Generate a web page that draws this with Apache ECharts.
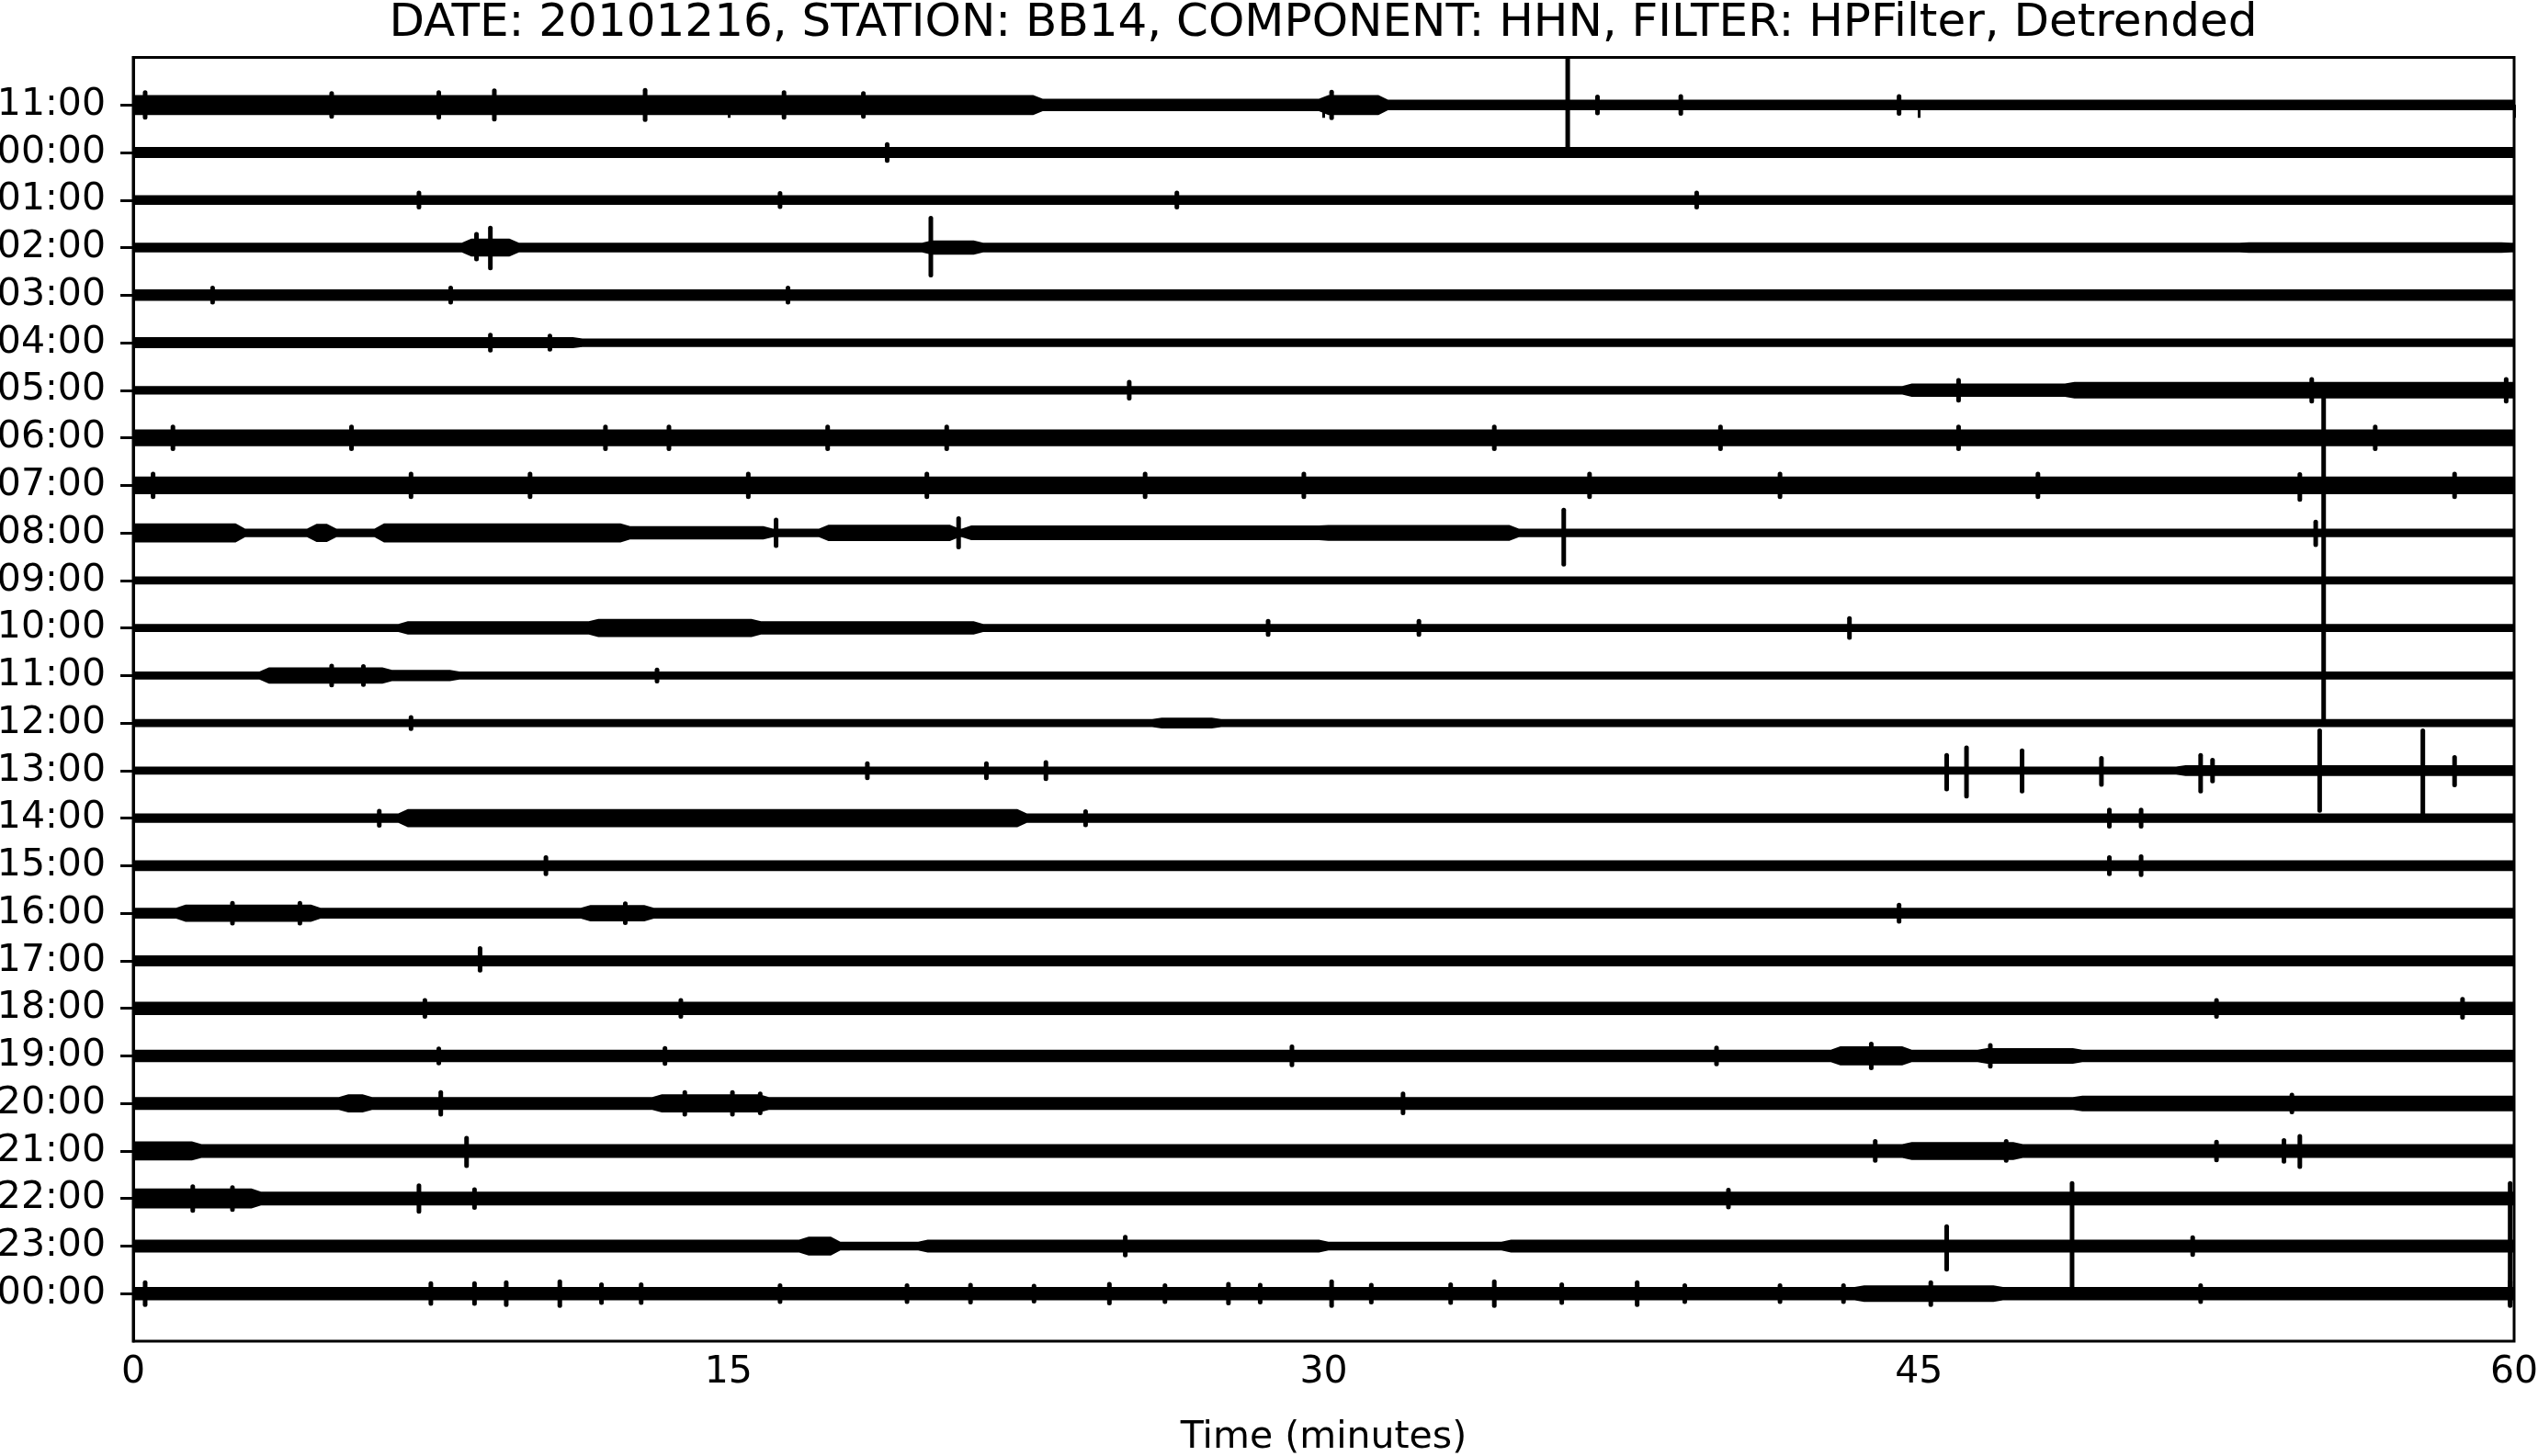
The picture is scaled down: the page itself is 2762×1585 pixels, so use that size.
<!DOCTYPE html>
<html><head><meta charset="utf-8">
<script src="https://cdn.jsdelivr.net/npm/echarts@6/dist/echarts.min.js"></script>
<style>html,body{margin:0;padding:0;background:#fff}#chart{width:2762px;height:1585px}</style>
</head><body><div id="chart"></div>
<script>
const titleText = 'DATE: 20101216, STATION: BB14, COMPONENT: HHN, FILTER: HPFilter, Detrended';
const xAxisName = 'Time (minutes)';
const hourLabels = ['11:00','00:00','01:00','02:00','03:00','04:00','05:00','06:00','07:00','08:00','09:00','10:00','11:00','12:00','13:00','14:00','15:00','16:00','17:00','18:00','19:00','20:00','21:00','22:00','23:00','00:00'];
const xTicks = [0, 15, 30, 45, 60];
// half-thickness of each trace band (in row units)
const baseAmp = [0.11,0.115,0.10,0.10,0.12,0.09,0.09,0.175,0.185,0.09,0.085,0.085,0.085,0.085,0.085,0.10,0.115,0.115,0.115,0.14,0.13,0.135,0.145,0.145,0.135,0.14];
// [row, start min, end min, half-amplitude]
const noiseBursts = [
  [0,0,22.8,0.21],[0,22.8,30.0,0.13],[0,30.0,31.5,0.21],
  [3,8.4,9.6,0.19],[3,20.0,21.3,0.15],[3,53.2,59.8,0.11],
  [5,0,11.2,0.115],
  [6,44.7,48.8,0.14],[6,48.8,60,0.175],
  [9,0,2.7,0.2],[9,4.5,5.0,0.19],[9,6.2,12.4,0.2],[9,12.4,16.0,0.14],[9,17.4,20.7,0.17],[9,21,30,0.155],[9,30,34.8,0.165],
  [11,6.8,11.6,0.14],[11,11.6,15.7,0.19],[11,15.7,21.3,0.14],
  [12,3.3,6.4,0.17],[12,6.4,8.1,0.12],
  [13,25.8,27.3,0.115],
  [14,51.6,60,0.115],
  [15,6.8,22.4,0.19],
  [17,1.2,4.6,0.18],[17,11.4,13,0.17],
  [20,42.9,44.7,0.2],[20,46.6,49,0.165],
  [21,5.3,5.9,0.19],[21,13.2,15.9,0.19],[21,49,60,0.165],
  [22,0,1.6,0.2],[22,44.7,47.5,0.19],
  [23,0,3.1,0.21],
  [24,16.9,17.7,0.2],[24,17.7,19.9,0.09],[24,30,34.6,0.09],
  [25,43.5,47,0.175]
];
// [row, minute, extent above, extent below] (row units)
const spikes = [
  [0,0.3,0.26,0.26],[0,5.0,0.24,0.24],[0,7.7,0.26,0.26],[0,9.1,0.3,0.3],[0,12.9,0.31,0.31],[0,16.4,0.26,0.26],[0,18.4,0.24,0.24],[0,30.2,0.27,0.27],[0,36.9,0.17,0.17],[0,39.0,0.18,0.18],[0,44.5,0.18,0.18],
  [0,36.15,1.2,0.94],
  [1,19.0,0.17,0.17],
  [2,7.2,0.15,0.15],[2,16.3,0.14,0.14],[2,26.3,0.15,0.15],[2,39.4,0.15,0.15],
  [3,8.65,0.28,0.24],[3,9.0,0.41,0.43],[3,20.1,0.62,0.58],
  [4,2.0,0.15,0.15],[4,8.0,0.15,0.15],[4,16.5,0.15,0.15],
  [5,9.0,0.16,0.16],[5,10.5,0.14,0.14],
  [6,25.1,0.17,0.17],[6,46.0,0.21,0.21],[6,54.9,0.23,0.23],[6,59.8,0.23,0.23],
  [7,1.0,0.23,0.23],[7,5.5,0.23,0.23],[7,11.9,0.23,0.23],[7,13.5,0.23,0.23],[7,17.5,0.23,0.23],[7,20.5,0.23,0.23],[7,34.3,0.23,0.23],[7,40.0,0.23,0.23],[7,46.0,0.23,0.23],[7,56.5,0.23,0.23],
  [8,0.5,0.24,0.24],[8,7.0,0.24,0.24],[8,10.0,0.24,0.24],[8,15.5,0.24,0.24],[8,20.0,0.24,0.24],[8,25.5,0.24,0.24],[8,29.5,0.24,0.24],[8,36.7,0.24,0.24],[8,41.5,0.24,0.24],[8,48.0,0.24,0.24],[8,54.6,0.23,0.3],[8,58.5,0.24,0.24],
  [9,16.2,0.27,0.27],[9,20.8,0.3,0.3],[9,36.05,0.48,0.66],[9,55.0,0.23,0.25],[9,55.2,2.9,3.96],
  [11,28.6,0.14,0.14],[11,32.4,0.14,0.14],[11,43.25,0.2,0.2],
  [12,5.0,0.2,0.2],[12,5.8,0.19,0.19],[12,13.2,0.12,0.12],
  [13,7.0,0.12,0.12],
  [14,18.5,0.15,0.15],[14,21.5,0.15,0.15],[14,23.0,0.17,0.17],[14,45.7,0.32,0.39],[14,46.2,0.48,0.54],[14,47.6,0.42,0.43],[14,49.6,0.26,0.29],[14,52.1,0.32,0.43],[14,52.4,0.22,0.22],[14,55.1,0.84,0.84],[14,57.7,0.84,0.9],[14,58.5,0.28,0.3],
  [15,6.2,0.15,0.15],[15,24.0,0.14,0.14],[15,49.8,0.17,0.17],[15,50.6,0.17,0.17],
  [16,10.4,0.17,0.17],[16,49.8,0.17,0.17],[16,50.6,0.19,0.19],
  [17,2.5,0.21,0.21],[17,4.2,0.21,0.21],[17,12.4,0.2,0.2],[17,44.5,0.17,0.17],
  [18,8.74,0.26,0.2],
  [19,7.35,0.17,0.17],[19,13.8,0.17,0.17],[19,52.5,0.17,0.17],[19,58.7,0.19,0.19],
  [20,7.7,0.15,0.15],[20,13.4,0.16,0.16],[20,29.2,0.19,0.19],[20,39.9,0.17,0.17],[20,43.8,0.25,0.25],[20,46.8,0.22,0.22],
  [21,7.75,0.23,0.23],[21,13.9,0.23,0.23],[21,15.1,0.23,0.23],[21,15.8,0.2,0.2],[21,32.0,0.2,0.2],[21,54.4,0.18,0.18],
  [22,8.4,0.27,0.31],[22,43.9,0.2,0.2],[22,47.2,0.2,0.2],[22,52.5,0.19,0.19],[22,54.2,0.22,0.22],[22,54.6,0.31,0.33],
  [23,1.5,0.25,0.25],[23,2.5,0.23,0.23],[23,7.2,0.27,0.27],[23,8.6,0.19,0.19],[23,40.2,0.18,0.18],[23,48.86,0.32,1.9],[23,59.9,0.32,2.2],
  [24,25.0,0.19,0.19],[24,45.7,0.41,0.49],[24,51.9,0.18,0.18],
  [25,0.3,0.23,0.23],[25,7.5,0.21,0.21],[25,8.6,0.21,0.21],[25,9.4,0.23,0.23],[25,10.75,0.25,0.25],[25,11.8,0.19,0.19],[25,12.8,0.19,0.19],[25,16.3,0.17,0.17],[25,19.5,0.17,0.17],[25,21.1,0.18,0.18],[25,22.7,0.16,0.16],[25,24.6,0.2,0.2],[25,26.0,0.17,0.17],[25,27.6,0.2,0.2],[25,28.4,0.18,0.18],
  [25,30.2,0.25,0.25],[25,31.2,0.18,0.18],[25,33.2,0.19,0.19],[25,34.3,0.25,0.25],[25,36.0,0.19,0.19],[25,37.9,0.23,0.23],[25,39.1,0.17,0.17],[25,41.5,0.17,0.17],[25,43.1,0.17,0.17],[25,45.3,0.23,0.23],[25,52.1,0.17,0.17],[25,59.9,0.25,0.25]
];

function envelope(r) {
  const bs = noiseBursts.filter(b => b[0] === r);
  const cuts = new Set([0, 60]);
  bs.forEach(b => { cuts.add(b[1]); cuts.add(b[2]); });
  const xs = Array.from(cuts).sort((a, b) => a - b);
  const out = [];
  for (let i = 0; i < xs.length - 1; i++) {
    const mid = (xs[i] + xs[i + 1]) / 2;
    let a = baseAmp[r];
    bs.forEach(b => { if (mid >= b[1] && mid <= b[2]) a = b[3]; });
    out.push([xs[i], xs[i + 1], a]);
  }
  return out;
}

const rowIdx = hourLabels.map((_, i) => i);
const FONT = 'DejaVu Sans';
const TAPER = 0.12; // minutes over which band thickness changes
const chart = echarts.init(document.getElementById('chart'), null, {renderer: 'canvas'});
chart.setOption({
  animation: false,
  backgroundColor: '#fff',
  title: {
    text: titleText, left: 1440, top: 1, textAlign: 'center', padding: 0,
    textStyle: {fontFamily: FONT, fontSize: 50, fontWeight: 'normal', color: '#000'}
  },
  grid: {left: 145, right: 26, top: 62.5, bottom: 125, outerBoundsMode: 'none', containLabel: false,
    show: true, borderColor: '#000', borderWidth: 3, backgroundColor: '#fff'},
  xAxis: {
    type: 'value', min: 0, max: 60, interval: 15,
    name: xAxisName, nameLocation: 'middle', nameGap: 85,
    nameTextStyle: {fontFamily: FONT, fontSize: 41, color: '#000'},
    axisLine: {show: true, lineStyle: {color: '#000', width: 3}},
    axisTick: {show: true, length: 14, lineStyle: {color: '#000', width: 3}},
    axisLabel: {fontFamily: FONT, fontSize: 41, color: '#000', margin: 14,
      customValues: xTicks, formatter: v => String(v)},
    splitLine: {show: false}
  },
  yAxis: {
    type: 'value', min: -1, max: 26, inverse: true,
    axisLine: {show: true, lineStyle: {color: '#000', width: 3}},
    axisTick: {show: true, length: 14, customValues: rowIdx, lineStyle: {color: '#000', width: 3}},
    axisLabel: {fontFamily: FONT, fontSize: 41, color: '#000', margin: 30,
      customValues: rowIdx, formatter: v => hourLabels[v] || ''},
    splitLine: {show: false}
  },
  series: [
    {
      type: 'custom', name: 'trace', clip: true,
      data: rowIdx.map(i => [0, i]), encode: {x: 0, y: 1},
      renderItem: function (params, api) {
        const r = api.value(1);
        const segs = envelope(r);
        const upper = [], lower = [];
        segs.forEach((s, k) => {
          const a0 = k === 0 ? s[0] : s[0] + TAPER;
          const a1 = k === segs.length - 1 ? s[1] : s[1] - TAPER;
          upper.push(api.coord([a0, r - s[2]]), api.coord([a1, r - s[2]]));
          lower.push(api.coord([a0, r + s[2]]), api.coord([a1, r + s[2]]));
        });
        return {type: 'polygon', shape: {points: upper.concat(lower.reverse())}, style: {fill: '#000'}};
      }
    },
    {
      type: 'custom', name: 'spikes', clip: true,
      data: spikes.map(s => [s[1], s[0], s[2], s[3]]), encode: {x: 0, y: 1},
      renderItem: function (params, api) {
        const t = api.value(0), r = api.value(1);
        const p1 = api.coord([t, r - api.value(2)]);
        const p2 = api.coord([t, r + api.value(3)]);
        return {type: 'line', shape: {x1: p1[0], y1: p1[1], x2: p2[0], y2: p2[1]},
          style: {stroke: '#000', lineWidth: 5, lineCap: 'round'}};
      }
    }
  ]
});
</script></body></html>
